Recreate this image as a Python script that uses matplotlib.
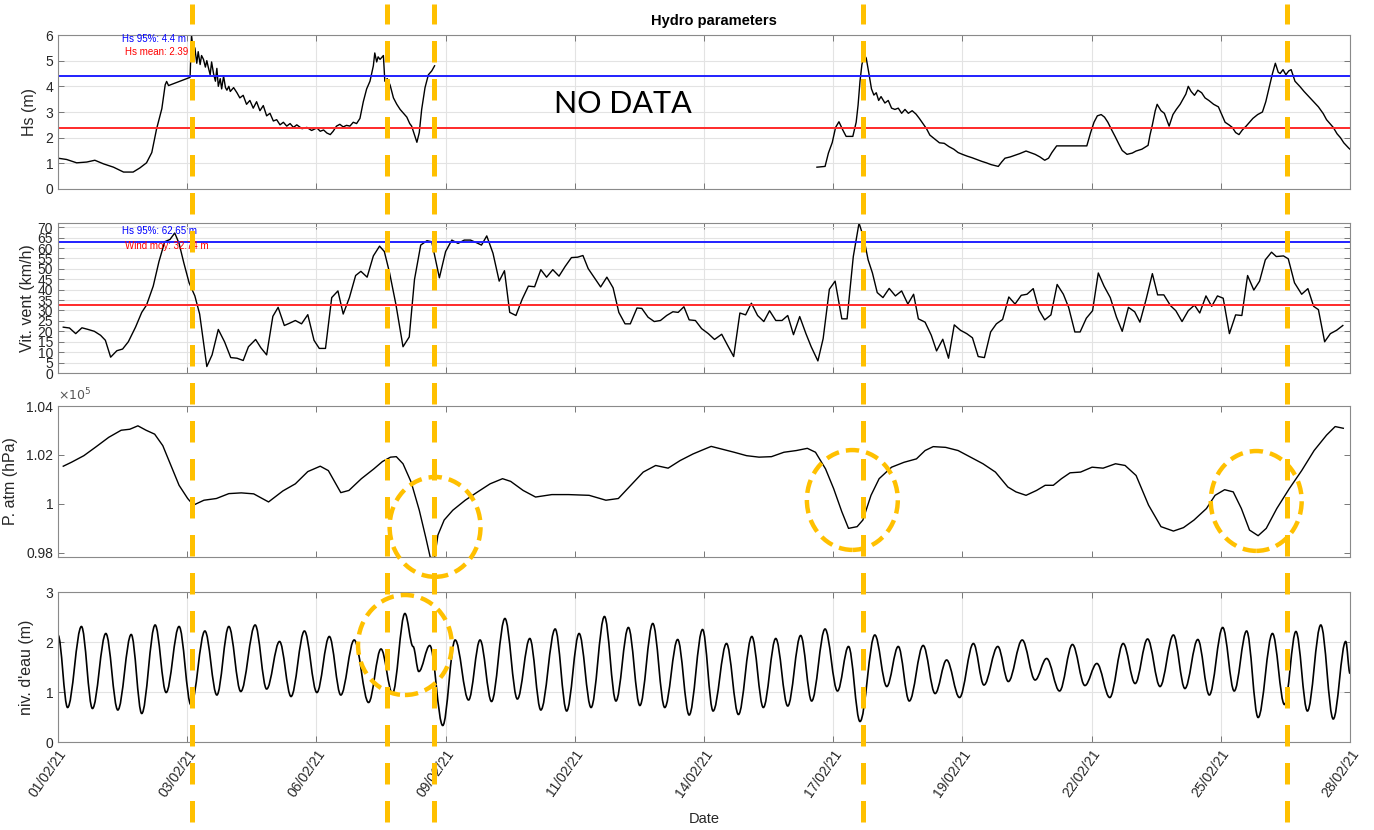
import numpy as np
import matplotlib
matplotlib.use("Agg")
import matplotlib.pyplot as plt
from matplotlib.patches import Ellipse, PathPatch
from matplotlib.path import Path
from matplotlib.lines import Line2D
from matplotlib.transforms import blended_transform_factory
from matplotlib.ticker import FuncFormatter

# axe des temps : jours depuis le 01/02/21 00:00
date_labels = ["01/02/21", "03/02/21", "06/02/21", "09/02/21", "11/02/21", "14/02/21",
               "17/02/21", "19/02/21", "22/02/21", "25/02/21", "28/02/21"]

# Hs (m), avant et apres le trou de donnees
hs_days_a = [0.00, 0.18, 0.39, 0.60, 0.77, 0.95, 1.16, 1.37, 1.57, 1.71,
             1.85, 1.96, 2.06, 2.17, 2.24, 2.27, 2.31, 2.76, 2.79, 2.83,
             2.86, 2.90, 2.93, 2.97, 3.00, 3.04, 3.08, 3.11, 3.14, 3.18,
             3.21, 3.25, 3.29, 3.32, 3.35, 3.39, 3.42, 3.46, 3.50, 3.53,
             3.57, 3.60, 3.67, 3.74, 3.80, 3.87, 3.94, 4.01, 4.08, 4.15,
             4.22, 4.29, 4.36, 4.43, 4.50, 4.57, 4.64, 4.71, 4.78, 4.85,
             4.92, 4.99, 5.10, 5.20, 5.30, 5.41, 5.48, 5.55, 5.62, 5.69,
             5.75, 5.82, 5.89, 5.96, 6.03, 6.10, 6.17, 6.24, 6.31, 6.38,
             6.45, 6.52, 6.59, 6.62, 6.66, 6.69, 6.73, 6.80, 6.83, 6.88,
             6.94, 7.01, 7.08, 7.15, 7.22, 7.29, 7.35, 7.39, 7.46, 7.50,
             7.55, 7.60, 7.67, 7.74, 7.81, 7.87]
hs_a = [1.20, 1.15, 1.02, 1.05, 1.12, 0.98, 0.85, 0.66, 0.66, 0.82,
        1.02, 1.42, 2.34, 3.13, 4.06, 4.19, 4.03, 4.35, 6.00, 5.30,
        5.50, 4.90, 5.35, 4.85, 5.20, 5.05, 4.75, 5.00, 4.75, 4.45,
        4.95, 4.50, 4.20, 4.70, 4.00, 4.30, 3.90, 4.40, 3.95, 3.85,
        4.00, 3.80, 3.95, 3.75, 3.55, 3.65, 3.30, 3.45, 3.15, 3.40,
        3.05, 3.25, 2.85, 2.95, 2.65, 2.70, 2.50, 2.60, 2.45, 2.55,
        2.40, 2.50, 2.35, 2.40, 2.28, 2.38, 2.25, 2.30, 2.18, 2.12,
        2.25, 2.45, 2.52, 2.42, 2.48, 2.45, 2.60, 2.55, 2.75, 3.40,
        3.90, 4.20, 4.80, 5.30, 4.95, 5.15, 5.05, 5.20, 4.20, 4.30,
        4.05, 3.55, 3.30, 3.10, 2.95, 2.80, 2.55, 2.45, 2.05, 1.82,
        2.20, 3.10, 3.95, 4.45, 4.60, 4.80]

hs_days_b = [15.86, 16.03, 16.10, 16.18, 16.25, 16.32, 16.40, 16.47, 16.61, 16.68,
             16.72, 16.76, 16.80, 16.85, 16.89, 16.95, 17.00, 17.05, 17.10, 17.15,
             17.20, 17.28, 17.35, 17.42, 17.49, 17.56, 17.63, 17.70, 17.77, 17.85,
             17.93, 18.00, 18.08, 18.15, 18.22, 18.32, 18.42, 18.52, 18.62, 18.72,
             18.81, 18.90, 19.00, 19.10, 19.20, 19.30, 19.40, 19.50, 19.65, 19.72,
             19.79, 19.90, 19.99, 20.10, 20.23, 20.32, 20.42, 20.52, 20.62, 20.70,
             20.77, 20.87, 21.50, 21.58, 21.65, 21.72, 21.80, 21.87, 21.94, 22.02,
             22.09, 22.17, 22.24, 22.34, 22.45, 22.53, 22.65, 22.78, 22.82, 22.87,
             22.93, 22.97, 23.05, 23.12, 23.17, 23.22, 23.30, 23.37, 23.45, 23.51,
             23.57, 23.62, 23.68, 23.75, 23.82, 23.90, 23.97, 24.05, 24.15, 24.25,
             24.32, 24.39, 24.47, 24.54, 24.61, 24.68, 24.75, 24.83, 24.90, 24.97,
             25.07, 25.17, 25.24, 25.31, 25.38, 25.44, 25.50, 25.54, 25.60, 25.66,
             25.72, 25.77, 25.85, 25.95, 26.04, 26.14, 26.24, 26.34, 26.44, 26.51,
             26.58, 26.65, 26.73, 26.80, 26.87, 26.97, 27.00]
hs_b = [0.85, 0.88, 1.40, 1.81, 2.40, 2.62, 2.30, 2.05, 2.05, 2.60,
        3.27, 4.20, 4.85, 5.22, 5.10, 4.46, 3.90, 3.66, 3.75, 3.45,
        3.60, 3.35, 3.45, 3.15, 3.10, 3.15, 2.95, 3.10, 2.95, 3.05,
        2.92, 2.75, 2.54, 2.35, 2.10, 1.95, 1.80, 1.78, 1.65, 1.55,
        1.42, 1.35, 1.28, 1.22, 1.15, 1.08, 1.02, 0.95, 0.88, 1.05,
        1.20, 1.25, 1.31, 1.38, 1.48, 1.42, 1.35, 1.25, 1.12, 1.20,
        1.42, 1.68, 1.68, 2.20, 2.60, 2.85, 2.90, 2.80, 2.60, 2.30,
        2.05, 1.75, 1.50, 1.35, 1.40, 1.48, 1.55, 1.70, 2.10, 2.50,
        3.05, 3.30, 3.05, 2.95, 2.70, 2.45, 2.90, 3.10, 3.30, 3.50,
        3.70, 4.00, 3.80, 3.65, 3.85, 3.75, 3.55, 3.45, 3.30, 3.20,
        2.90, 2.60, 2.50, 2.40, 2.20, 2.12, 2.30, 2.45, 2.60, 2.75,
        2.90, 3.00, 3.40, 3.95, 4.50, 4.90, 4.55, 4.50, 4.65, 4.45,
        4.60, 4.65, 4.20, 4.00, 3.80, 3.60, 3.40, 3.20, 2.94, 2.70,
        2.55, 2.40, 2.15, 2.00, 1.80, 1.60, 1.55]
hs_p95 = 4.4
hs_mean = 2.39

# vitesse du vent (km/h)
wind_days = [0.11, 0.24, 0.37, 0.50, 0.63, 0.76, 0.89, 0.99, 1.10, 1.23,
             1.35, 1.47, 1.62, 1.75, 1.85, 1.99, 2.11, 2.23, 2.34, 2.44,
             2.53, 2.63, 2.74, 2.86, 2.96, 3.03, 3.11, 3.22, 3.35, 3.48,
             3.61, 3.74, 3.87, 3.98, 4.13, 4.24, 4.36, 4.49, 4.60, 4.73,
             4.84, 4.96, 5.09, 5.22, 5.35, 5.46, 5.59, 5.72, 5.85, 5.96,
             6.09, 6.22, 6.33, 6.46, 6.59, 6.72, 6.82, 6.93, 7.06, 7.21,
             7.34, 7.45, 7.58, 7.71, 7.81, 7.97, 8.10, 8.23, 8.36, 8.49,
             8.62, 8.75, 8.85, 8.96, 9.09, 9.22, 9.33, 9.44, 9.57, 9.70,
             9.83, 9.96, 10.09, 10.21, 10.34, 10.47, 10.60, 10.73, 10.86, 10.97,
             11.08, 11.21, 11.34, 11.47, 11.60, 11.72, 11.85, 11.96, 12.10, 12.20,
             12.33, 12.46, 12.59, 12.72, 12.85, 12.96, 13.08, 13.19, 13.32, 13.45,
             13.59, 13.72, 13.87, 13.99, 14.12, 14.25, 14.37, 14.49, 14.62, 14.75,
             14.87, 15.00, 15.13, 15.25, 15.37, 15.50, 15.63, 15.74, 15.88, 15.99,
             16.12, 16.24, 16.38, 16.49, 16.62, 16.74, 16.84, 16.93, 17.02, 17.12,
             17.24, 17.37, 17.50, 17.63, 17.76, 17.88, 17.98, 18.12, 18.25, 18.36,
             18.49, 18.61, 18.73, 18.86, 18.99, 19.11, 19.23, 19.36, 19.49, 19.61,
             19.74, 19.87, 20.00, 20.13, 20.25, 20.38, 20.50, 20.62, 20.75, 20.88,
             21.01, 21.12, 21.25, 21.36, 21.49, 21.62, 21.74, 21.86, 21.99, 22.12,
             22.24, 22.37, 22.50, 22.61, 22.74, 22.87, 22.98, 23.11, 23.25, 23.36,
             23.49, 23.62, 23.75, 23.86, 23.99, 24.11, 24.23, 24.35, 24.48, 24.61,
             24.74, 24.86, 24.99, 25.11, 25.23, 25.36, 25.46, 25.61, 25.71, 25.84,
             25.99, 26.12, 26.24, 26.34, 26.47, 26.59, 26.72, 26.85]
wind = [22.0, 21.6, 18.9, 21.7, 20.9, 20.0, 18.1, 15.7, 7.6, 10.7,
        11.5, 15.0, 22.0, 29.1, 32.6, 41.7, 53.5, 63.0, 64.1, 67.2,
        62.2, 52.8, 43.3, 37.0, 28.3, 16.5, 3.1, 8.7, 20.9, 15.0,
        7.4, 7.1, 6.0, 12.6, 16.1, 12.1, 8.7, 27.2, 31.5, 22.8,
        23.9, 25.2, 23.6, 28.0, 15.7, 11.8, 11.8, 36.2, 39.4, 28.3,
        36.2, 46.8, 48.8, 46.0, 56.2, 60.9, 58.3, 48.0, 33.1, 12.6,
        17.3, 44.9, 61.4, 63.5, 63.0, 45.7, 58.3, 63.8, 62.2, 63.8,
        63.8, 62.5, 61.4, 65.8, 57.5, 44.1, 49.1, 29.1, 27.6, 35.4,
        41.7, 41.4, 49.6, 46.0, 49.6, 46.5, 51.2, 55.4, 55.6, 56.4,
        50.1, 45.7, 41.3, 46.0, 40.9, 29.1, 23.6, 23.6, 31.2, 31.0,
        26.8, 24.7, 25.2, 27.6, 29.4, 29.1, 31.8, 25.5, 25.2, 21.3,
        18.9, 16.1, 18.6, 13.4, 7.9, 28.8, 27.9, 33.5, 27.6, 24.7,
        29.9, 25.2, 25.2, 27.6, 18.4, 27.1, 18.9, 12.6, 5.8, 16.5,
        40.2, 44.1, 26.0, 26.0, 55.9, 72.0, 64.6, 54.3, 48.0, 38.6,
        36.2, 40.6, 37.0, 39.4, 33.1, 37.8, 26.0, 24.4, 18.1, 10.6,
        16.2, 7.1, 23.1, 20.5, 18.9, 16.9, 7.9, 7.4, 19.7, 23.6,
        25.7, 36.5, 33.1, 37.3, 37.8, 40.5, 30.2, 25.5, 27.9, 42.5,
        37.8, 31.5, 19.7, 19.7, 26.3, 29.9, 48.0, 41.7, 36.2, 26.8,
        20.0, 31.5, 29.4, 24.4, 35.4, 47.7, 37.5, 37.5, 32.3, 29.9,
        24.7, 29.9, 32.6, 28.8, 37.0, 32.0, 37.0, 35.9, 18.9, 27.9,
        27.6, 46.8, 39.8, 44.1, 54.3, 58.0, 55.9, 56.2, 54.8, 43.3,
        37.8, 40.5, 32.0, 30.4, 15.0, 18.9, 20.5, 22.8]
wind_p95 = 62.65
wind_mean = 32.74

# pression atmospherique (Pa, affichee x10^5)
press_days = [0.11, 0.28, 0.54, 0.80, 1.06, 1.32, 1.50, 1.67, 1.84, 2.02,
              2.19, 2.36, 2.53, 2.71, 2.83, 3.05, 3.31, 3.57, 3.83, 4.09,
              4.40, 4.70, 4.96, 5.22, 5.48, 5.65, 5.91, 6.08, 6.34, 6.60,
              6.78, 6.95, 7.07, 7.21, 7.38, 7.55, 7.69, 7.78, 7.87, 7.94,
              8.07, 8.25, 8.51, 8.77, 9.03, 9.29, 9.46, 9.72, 9.98, 10.32,
              10.67, 11.10, 11.45, 11.71, 11.97, 12.23, 12.49, 12.75, 13.00, 13.27,
              13.44, 13.65, 13.87, 14.13, 14.39, 14.65, 14.91, 15.17, 15.43, 15.66,
              15.83, 16.04, 16.21, 16.38, 16.52, 16.70, 16.82, 16.99, 17.16, 17.42,
              17.68, 17.94, 18.12, 18.29, 18.55, 18.81, 19.07, 19.33, 19.59, 19.85,
              20.02, 20.23, 20.45, 20.63, 20.80, 20.97, 21.15, 21.37, 21.61, 21.84,
              22.10, 22.30, 22.53, 22.79, 23.05, 23.31, 23.52, 23.74, 24.00, 24.18,
              24.38, 24.56, 24.73, 24.90, 25.08, 25.25, 25.47, 25.73, 25.99, 26.25,
              26.51, 26.69, 26.86]
press = [101540, 101700, 101970, 102340, 102720, 103010, 103050, 103190, 103010, 102850,
         102380, 101570, 100760, 100220, 99950, 100150, 100220, 100420, 100450, 100410,
         100080, 100530, 100820, 101320, 101540, 101360, 100460, 100550, 101030, 101430,
         101730, 101910, 101930, 101640, 100890, 99740, 98590, 97810, 97810, 98730,
         99340, 99740, 100150, 100490, 100820, 101030, 100920, 100550, 100280, 100380,
         100380, 100350, 100150, 100220, 100760, 101300, 101570, 101460, 101770, 102040,
         102180, 102350, 102240, 102110, 101970, 101910, 101930, 102110, 102180, 102270,
         102110, 101430, 100620, 99680, 99000, 99070, 99340, 100350, 101030, 101500,
         101700, 101840, 102180, 102340, 102310, 102180, 101910, 101640, 101300, 100690,
         100490, 100350, 100550, 100760, 100760, 101030, 101270, 101300, 101500, 101460,
         101640, 101570, 101160, 99950, 99070, 98890, 99030, 99340, 99810, 100350,
         100580, 100490, 99810, 98930, 98700, 99000, 99810, 100620, 101360, 102180,
         102810, 103160, 103090]

# niveau d'eau (m) : pleines et basses mers successives
tide_days = [0.00, 0.20, 0.49, 0.72, 1.00, 1.25, 1.53, 1.75, 2.03, 2.26,
             2.53, 2.78, 3.07, 3.32, 3.57, 3.82, 4.12, 4.36, 4.63, 4.87,
             5.15, 5.41, 5.67, 5.91, 6.19, 6.49, 6.75, 6.99, 7.25, 7.42,
             7.54, 7.77, 8.04, 8.30, 8.58, 8.82, 9.06, 9.34, 9.60, 9.86,
             10.09, 10.39, 10.63, 10.89, 11.14, 11.42, 11.66, 11.92, 12.16, 12.43,
             12.68, 12.95, 13.19, 13.47, 13.69, 13.97, 14.22, 14.50, 14.74, 15.00,
             15.25, 15.52, 15.75, 16.03, 16.29, 16.52, 16.76, 17.07, 17.32, 17.56,
             17.79, 18.08, 18.33, 18.57, 18.84, 19.13, 19.35, 19.64, 19.86, 20.15,
             20.42, 20.66, 20.93, 21.20, 21.46, 21.71, 21.98, 22.26, 22.51, 22.77,
             23.03, 23.31, 23.55, 23.82, 24.06, 24.34, 24.58, 24.84, 25.08, 25.38,
             25.63, 25.87, 26.11, 26.39, 26.65, 26.91, 27.00]
tide = [2.14, 0.69, 2.31, 0.67, 2.17, 0.64, 2.15, 0.57, 2.34, 0.99,
        2.31, 0.74, 2.22, 0.94, 2.31, 1.01, 2.34, 1.06, 2.01, 0.91,
        2.22, 0.99, 2.11, 0.94, 2.04, 0.79, 1.86, 0.97, 2.57, 1.91,
        1.41, 1.93, 0.33, 2.04, 0.84, 2.04, 0.81, 2.47, 0.86, 2.07,
        0.64, 2.26, 0.62, 2.17, 0.69, 2.51, 0.82, 2.29, 0.73, 2.37,
        0.69, 2.05, 0.54, 2.25, 0.62, 1.97, 0.55, 2.11, 0.69, 2.07,
        0.72, 2.13, 0.82, 2.26, 1.02, 1.91, 0.41, 2.14, 1.11, 1.91,
        0.82, 1.93, 0.97, 1.64, 0.89, 1.97, 1.14, 1.91, 1.21, 2.04,
        1.24, 1.67, 1.02, 1.95, 1.13, 1.57, 0.89, 1.97, 1.17, 2.06,
        1.11, 2.14, 1.07, 2.05, 0.94, 2.29, 1.02, 2.22, 0.49, 2.17,
        0.75, 2.21, 0.62, 2.34, 0.46, 2.01, 1.37]

# evenements (jours) marques en pointilles
event_days = [2.79, 6.88, 7.86, 16.82, 25.68]

plt.rcParams['font.family'] = ['Liberation Sans', 'DejaVu Sans']
ORANGE = '#FFC000'
GRIS = '#262626'

fig = plt.figure(figsize=(13.74, 8.3), dpi=100)
left = 58 / 1374
width = (1350 - 58) / 1374
ax1 = fig.add_axes([left, 1 - 189 / 830, width, 154 / 830])
ax2 = fig.add_axes([left, 1 - 373 / 830, width, 150 / 830])
ax3 = fig.add_axes([left, 1 - 557 / 830, width, 151 / 830])
ax4 = fig.add_axes([left, 1 - 742 / 830, width, 150 / 830])
axes = [ax1, ax2, ax3, ax4]

x_ticks = np.linspace(0, 27, len(date_labels))
for ax in axes:
    ax.set_xlim(0, 27)
    ax.set_xticks(x_ticks)
    ax.tick_params(direction='in', top=True, right=True, length=4, width=0.7,
                   color='#777777', labelcolor=GRIS, labelsize=10)
    for s in ax.spines.values():
        s.set_color('#8a8a8a')
        s.set_linewidth(0.8)
for ax in [ax1, ax2, ax4]:
    ax.grid(True, color='#e3e3e3', linewidth=0.8)
    ax.set_axisbelow(True)
for ax in [ax1, ax2, ax3]:
    ax.set_xticklabels([])

# Hs
ax1.plot(hs_days_a, hs_a, color='black', lw=1.0)
ax1.plot(hs_days_b, hs_b, color='black', lw=1.0)
ax1.axhline(hs_p95, color='#2020ff', lw=1.4)
ax1.axhline(hs_mean, color='#ff2a2a', lw=1.4)
ax1.set_ylim(0, 6)
ax1.set_yticks(range(0, 7))
ax1.set_ylabel('Hs (m)', fontsize=11.5, color=GRIS, labelpad=6)
ax1.text(1.34, 5.85, f'Hs 95%: {hs_p95} m', color='blue', fontsize=7, va='center')
ax1.text(1.40, 5.33, f'Hs mean: {hs_mean}', color='red', fontsize=7, va='center')
ax1.text(11.8, 3.33, 'NO DATA', fontsize=22, family=['Lato', 'DejaVu Sans'],
         ha='center', va='center', color='black')
ax1.set_title('Hydro parameters', fontweight='bold', fontsize=10.5, pad=7, x=0.508)

# vent
ax2.plot(wind_days, wind, color='black', lw=1.0)
ax2.axhline(wind_p95, color='#2020ff', lw=1.4)
ax2.axhline(wind_mean, color='#ff2a2a', lw=1.4)
ax2.set_ylim(0, 72)
ax2.set_yticks(range(0, 71, 5))
ax2.set_ylabel('Vit. vent (km/h)', fontsize=11.5, color=GRIS, labelpad=2)
ax2.text(1.34, 68.2, f'Hs 95%: {wind_p95} m', color='blue', fontsize=7, va='center')
ax2.text(1.40, 61.0, f'Wind moy: {wind_mean} m', color='red', fontsize=7, va='center')

# pression
ax3.plot(press_days, press, color='black', lw=1.0)
ax3.set_ylim(97830, 104000)
ax3.set_yticks([98000, 100000, 102000, 104000])
ax3.yaxis.set_major_formatter(FuncFormatter(lambda v, p: f'{v / 1e5:g}'))
ax3.set_ylabel('P. atm (hPa)', fontsize=11.5, color=GRIS, labelpad=6)
ax3.text(0, 1.015, r'$\times10^{5}$', transform=ax3.transAxes, fontsize=9,
         color='#555555', va='bottom')

# niveau d'eau : trace lisse entre pleines et basses mers
verts = [(tide_days[0], tide[0])]
codes = [Path.MOVETO]
for t0, v0, t1, v1 in zip(tide_days[:-1], tide[:-1], tide_days[1:], tide[1:]):
    dt = t1 - t0
    verts += [(t0 + 0.36 * dt, v0), (t1 - 0.36 * dt, v1), (t1, v1)]
    codes += [Path.CURVE4] * 3
ax4.add_patch(PathPatch(Path(verts, codes), fill=False, ec='black', lw=1.2))
ax4.set_ylim(0, 3)
ax4.set_yticks([0, 1, 2, 3])
ax4.set_ylabel("niv. d'eau (m)", fontsize=11.5, color=GRIS, labelpad=8)
ax4.set_xticklabels(date_labels, rotation=55, ha='right', va='top',
                    rotation_mode='anchor')
ax4.set_xlabel('Date', fontsize=10.5, color=GRIS, labelpad=9)

# cercles en pointilles
for xc, yc in [(7.88, 99060), (16.6, 100160), (25.04, 100120)]:
    ax3.add_patch(Ellipse((xc, yc), 1.9, 4080, fill=False, ec=ORANGE, lw=3.2,
                          linestyle=(0, (3, 1.6)), clip_on=False, zorder=5))
ax4.add_patch(Ellipse((7.25, 1.94), 1.96, 2.0, fill=False, ec=ORANGE, lw=3.2,
                      linestyle=(0, (3, 1.6)), clip_on=False, zorder=5))

# lignes verticales sur toute la figure
trans = blended_transform_factory(ax4.transData, fig.transFigure)
for d in event_days:
    fig.add_artist(Line2D([d, d], [1 - 822 / 830, 1 - 4 / 830], transform=trans,
                          color=ORANGE, lw=3.6, linestyle=(0, (4.3, 3.3)),
                          solid_capstyle='butt'))

fig.savefig('out.png', dpi=100)
